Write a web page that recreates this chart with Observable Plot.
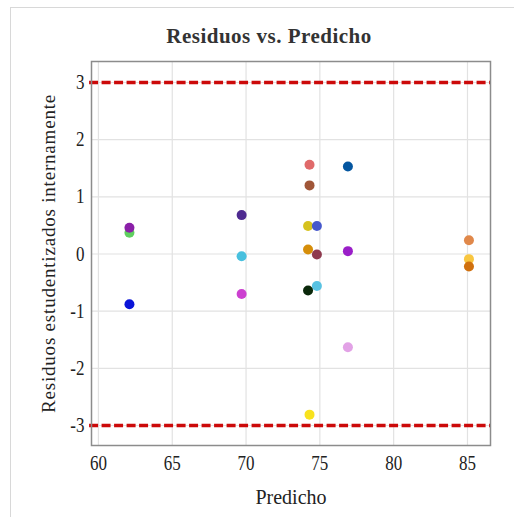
<!DOCTYPE html>
<html>
<head>
<meta charset="utf-8">
<script src="https://cdn.jsdelivr.net/npm/d3@7"></script>
<script src="https://cdn.jsdelivr.net/npm/@observablehq/plot@0.6"></script>
<style>
  html, body { margin: 0; padding: 0; background: #fff; }
  #wrap { position: relative; width: 514px; height: 517px; overflow: hidden; }
  #box { position: absolute; left: 10px; top: 7px; width: 520px; height: 520px; border: 1px solid #d8d8d8; box-sizing: border-box; }
  #chart { position: absolute; left: 0; top: 0; }
  #chart svg text { font-family: 'Liberation Serif', 'DejaVu Serif', serif !important; }
</style>
</head>
<body>
<div id="wrap"><div id="box"></div><div id="chart"></div></div>
<script>
const title = "Residuos vs. Predicho";
const xLabel = "Predicho";
const yLabel = "Residuos estudentizados internamente";
const xTicks = [60, 65, 70, 75, 80, 85];
const yTicks = [-3, -2, -1, 0, 1, 2, 3];
const limits = [-3, 3];

const predicted = [62.1, 62.1, 62.1, 69.7, 69.7, 69.7,
  74.3, 76.9, 74.3, 74.2, 74.8, 74.2, 74.8, 76.9, 74.8, 74.2,
  85.1, 85.1, 85.1, 76.9, 74.3];
const residuals = [0.37, 0.46, -0.88, 0.68, -0.04, -0.70,
  1.56, 1.53, 1.20, 0.49, 0.49, 0.08, -0.01, 0.05, -0.56, -0.64,
  0.24, -0.09, -0.22, -1.63, -2.81];
const colors = ["#5fcf5f", "#8a1fa8", "#0a14d8", "#4e2a90", "#48c0de", "#cc40d0",
  "#e06a6a", "#0456a0", "#a05638", "#d6c21e", "#4658cc", "#d68e0a", "#8e3a4e", "#9a1ec8", "#58c2e2", "#0a280a",
  "#e0884a", "#f8c640", "#d0700e", "#e2a2e6", "#f8e21e"];

const data = predicted.map((x, i) => ({x, y: residuals[i], c: colors[i]}));

const font = "'Liberation Serif', 'DejaVu Serif', serif";

const chart = Plot.plot({
  width: 514,
  height: 517,
  marginLeft: 91,
  marginRight: 24,
  marginTop: 61,
  marginBottom: 72,
  style: {fontFamily: font, fontSize: "17px", color: "#222", background: "transparent"},
  x: {domain: [59.53, 86.56], ticks: xTicks},
  y: {domain: [-3.35, 3.367], ticks: yTicks},
  marks: [
    Plot.gridX(xTicks, {stroke: "#e2e2e2", strokeOpacity: 1, strokeWidth: 1.2}),
    Plot.gridY(yTicks, {stroke: "#e2e2e2", strokeOpacity: 1, strokeWidth: 1.2}),
    Plot.axisX(xTicks, {tickSize: 0, tickPadding: 10, fontSize: 17, fontFamily: font, label: null}),
    Plot.axisY(yTicks, {tickSize: 0, tickPadding: 7, fontSize: 17, fontFamily: font, tickFormat: d => String(d), label: null}),
    Plot.axisX({ticks: [], tickSize: 0, label: xLabel, labelAnchor: "center", labelArrow: "none", labelOffset: 58, fontSize: 20, fontFamily: font}),
    Plot.axisY({ticks: [], tickSize: 0, label: yLabel, labelAnchor: "center", labelArrow: "none", labelOffset: 50, fontSize: 19, fontFamily: font}),
    Plot.ruleY(limits, {stroke: "#cc0a0a", strokeWidth: 3.5, strokeDasharray: "9,3.5", x1: 59.4, x2: 86.56}),
    Plot.dot(data, {x: "x", y: "y", r: 5, fill: "c", stroke: "none"}),
    Plot.frame({stroke: "#8c8c8c", strokeWidth: 1.5}),
    Plot.text([title], {frameAnchor: "top", lineAnchor: "bottom", dx: -22, dy: -19, text: d => d, fontSize: 21, fontWeight: "bold", fill: "#333", fontFamily: font})
  ]
});
const svg = d3.select(chart);
svg.selectAll("g[aria-label='x-axis tick label'] text, g[aria-label='y-axis tick label'] text").each(function() {
  const t = this.getAttribute("transform") || "";
  this.setAttribute("transform", t + " scale(1,1.2)");
});
svg.selectAll("g[aria-label='y-axis label'] text").style("letter-spacing", "0.8px");
svg.selectAll("g[aria-label='text'] text").style("letter-spacing", "0.5px");
document.getElementById("chart").appendChild(chart);
</script>
</body>
</html>
